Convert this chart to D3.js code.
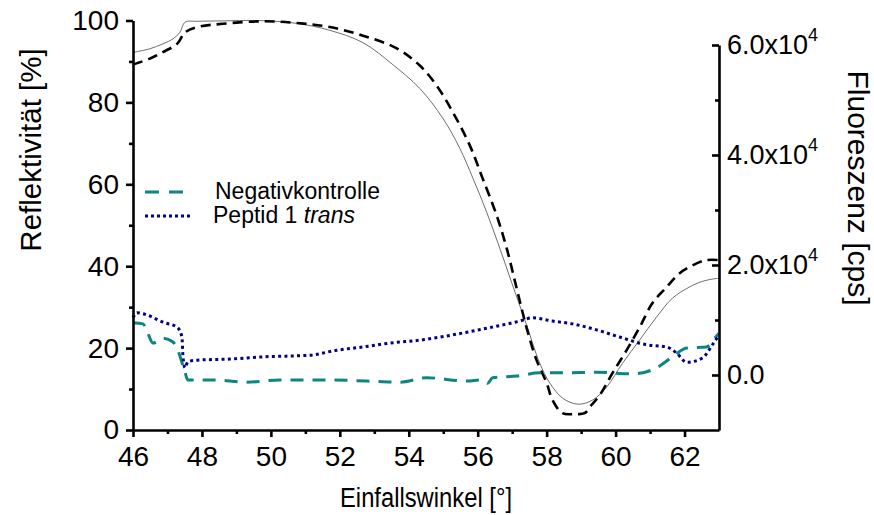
<!DOCTYPE html>
<html>
<head>
<meta charset="utf-8">
<script src="https://cdn.jsdelivr.net/npm/d3@7/dist/d3.min.js"></script>
<style>
  html, body { margin: 0; padding: 0; background: #fff; }
  svg { display: block; font-family: "Liberation Sans", Arial, sans-serif; }
</style>
</head>
<body>
<svg id="chart" width="874" height="515"></svg>
<script>
// Reflectivity curves (left axis, %)
const reflSolidAngle = [46.0, 46.06, 46.49, 46.87, 47.16, 47.36, 47.51, 47.86, 48.6, 49.6, 50.75, 51.71, 52.67, 53.54, 54.32, 54.99, 55.48, 55.86, 56.26, 56.64, 57.01, 57.42, 57.8, 58.09, 58.46, 58.9, 59.33, 59.74, 60.2, 60.7, 61.19, 61.65, 62.14, 62.52, 62.93, 63.0];
const reflSolid      = [92.2, 92.3, 93.1, 94.3, 95.5, 97.1, 99.6, 99.8, 99.9, 100.0, 99.3, 97.6, 94.6, 89.2, 83.4, 76.1, 68.8, 61.5, 53.2, 44.4, 35.4, 25.6, 16.3, 11.5, 7.8, 6.3, 7.3, 10.5, 16.3, 22.0, 27.6, 32.2, 34.9, 36.3, 37.0, 37.0];

const reflDashAngle = [46.0, 46.06, 46.49, 46.87, 47.28, 47.51, 47.86, 48.61, 49.77, 50.75, 51.71, 52.67, 53.65, 54.32, 54.81, 55.28, 55.77, 56.14, 56.55, 56.84, 57.13, 57.42, 57.71, 58.0, 58.17, 58.46, 58.81, 59.1, 59.3, 59.54, 59.91, 60.32, 60.7, 61.07, 61.48, 61.86, 62.23, 62.64, 63.0];
const reflDash      = [89.2, 89.4, 90.7, 92.3, 94.3, 97.1, 98.4, 99.2, 99.8, 99.4, 98.4, 96.3, 93.2, 89.0, 84.1, 77.6, 69.5, 61.5, 52.4, 44.4, 34.6, 24.9, 17.0, 11.5, 7.3, 4.1, 3.9, 4.1, 6.1, 8.5, 13.9, 19.5, 25.1, 31.0, 34.9, 38.3, 40.2, 41.5, 41.5];

// Fluorescence curves (right axis, cps)
const negAngle = [46.0, 46.29, 46.43, 46.58, 46.87, 47.16, 47.3, 47.51, 47.59, 48.32, 49.3, 50.26, 51.71, 52.78, 53.74, 54.52, 55.68, 56.12, 56.29, 56.43, 57.13, 57.8, 58.58, 59.45, 60.49, 61.19, 61.65, 62.06, 62.64, 62.93, 63.0];
const negCps   = [9500, 9300, 7600, 5800, 6700, 6000, 4500, 500, -900, -900, -1300, -900, -900, -1100, -1300, -500, -1100, -900, -1500, -500, -200, 400, 400, 500, 200, 1300, 3300, 4900, 5100, 7100, 7600];

const pepAngle = [46.0, 46.12, 46.41, 46.87, 47.28, 47.42, 47.45, 47.51, 47.59, 47.86, 48.81, 49.77, 51.13, 51.91, 52.67, 53.45, 54.41, 55.28, 56.26, 57.22, 57.59, 58.17, 58.75, 59.45, 60.12, 60.9, 61.48, 61.77, 62.06, 62.52, 62.81, 63.0];
const pepCps   = [10400, 11300, 10900, 9600, 8700, 6900, 3300, 1300, 2400, 2700, 2900, 3300, 3600, 4500, 5100, 5800, 6400, 7300, 8500, 9800, 10400, 9800, 9300, 8200, 6900, 5500, 5100, 4000, 2300, 3100, 5500, 7300];

// Axis ticks
const xMajorTicks = [46, 48, 50, 52, 54, 56, 58, 60, 62];
const xMinorTicks = [47, 49, 51, 53, 55, 57, 59, 61];
const yLeftMajorTicks = [0, 20, 40, 60, 80, 100];
const yLeftMinorTicks = [10, 30, 50, 70, 90];
const yRightMajorTicks = [0, 20000, 40000, 60000];
const yRightMinorTicks = [10000, 30000, 50000];
const yRightTickLabels = ["0.0", "2.0x10", "4.0x10", "6.0x10"];

const legendLabels = ["Negativkontrolle", "Peptid 1 "];

const svg = d3.select("#chart");
const plotLeft = 133, plotRight = 719, plotTop = 20.5, plotBottom = 430;

const x = d3.scaleLinear().domain([46, 63]).range([plotLeft, plotRight]);
const yL = d3.scaleLinear().domain([0, 100]).range([plotBottom, plotTop]);
const yR = d3.scaleLinear().domain([-10000, 60000]).range([plotBottom, 45]);

const colTeal = "#0d8580";
const colNavy = "#00008a";

function pairs(a, b) { return a.map((v, i) => [v, b[i]]); }

const lineL = d3.line().x(d => x(d[0])).y(d => yL(d[1])).curve(d3.curveCatmullRom.alpha(0.5));
const lineR = d3.line().x(d => x(d[0])).y(d => yR(d[1])).curve(d3.curveMonotoneX);

const plot = svg.append("g");

plot.append("path").datum(pairs(reflSolidAngle, reflSolid))
  .attr("d", lineL).attr("fill", "none").attr("stroke", "#6e6e6e").attr("stroke-width", 1);

plot.append("path").datum(pairs(reflDashAngle, reflDash))
  .attr("d", lineL).attr("fill", "none").attr("stroke", "#000").attr("stroke-width", 2.6)
  .attr("stroke-dasharray", "10,6");

plot.append("path").datum(pairs(negAngle, negCps))
  .attr("d", lineR).attr("fill", "none").attr("stroke", colTeal).attr("stroke-width", 3)
  .attr("stroke-dasharray", "13,9");

plot.append("path").datum(pairs(pepAngle, pepCps))
  .attr("d", lineR).attr("fill", "none").attr("stroke", colNavy).attr("stroke-width", 3)
  .attr("stroke-dasharray", "3,3.3");

// Axes
const fontTick = 28;
function styleAxis(g) {
  g.selectAll(".domain").attr("stroke", "#000").attr("stroke-width", 2.6);
  g.selectAll(".tick line").attr("stroke", "#000").attr("stroke-width", 2.6);
  g.selectAll(".tick text").attr("fill", "#000").attr("font-size", fontTick)
    .attr("font-family", "Liberation Sans, Arial, sans-serif");
}

// x axis
const gx = svg.append("g").attr("transform", `translate(0,${plotBottom})`)
  .call(d3.axisBottom(x).tickValues(xMajorTicks).tickSize(7).tickSizeOuter(0).tickPadding(9).tickFormat(d3.format("d")));
styleAxis(gx);
const gxm = svg.append("g").attr("transform", `translate(0,${plotBottom})`)
  .call(d3.axisBottom(x).tickValues(xMinorTicks).tickSize(4).tickFormat(""));
gxm.select(".domain").remove();
styleAxis(gxm);

// left y axis
const gyl = svg.append("g").attr("transform", `translate(${plotLeft},0)`)
  .call(d3.axisLeft(yL).tickValues(yLeftMajorTicks).tickSize(7).tickSizeOuter(0).tickPadding(7).tickFormat(d3.format("d")));
styleAxis(gyl);
const gylm = svg.append("g").attr("transform", `translate(${plotLeft},0)`)
  .call(d3.axisLeft(yL).tickValues(yLeftMinorTicks).tickSize(4).tickFormat(""));
gylm.select(".domain").remove();
styleAxis(gylm);

// right y axis, ticks pointing inward
const gyr = svg.append("g").attr("transform", `translate(${plotRight},0)`)
  .call(d3.axisRight(yR).tickValues(yRightMajorTicks).tickSizeInner(-7).tickSizeOuter(0).tickPadding(8).tickFormat(""));
styleAxis(gyr);
gyr.selectAll(".tick text").attr("font-size", 27).each(function(d, i) {
  const t = d3.select(this);
  t.text(null);
  t.append("tspan").text(yRightTickLabels[i]);
  if (d !== 0) {
    t.append("tspan").attr("font-size", 18).attr("dy", "-0.75em").text("4");
  }
});
const gyrm = svg.append("g").attr("transform", `translate(${plotRight},0)`)
  .call(d3.axisRight(yR).tickValues(yRightMinorTicks).tickSizeInner(-4).tickFormat(""));
gyrm.select(".domain").remove();
styleAxis(gyrm);

// Axis titles
svg.append("text").attr("x", 340).attr("y", 507)
  .attr("font-size", 27).attr("textLength", 172).attr("lengthAdjust", "spacingAndGlyphs")
  .text("Einfallswinkel [°]");

svg.append("text").attr("transform", "translate(41,150) rotate(-90)")
  .attr("text-anchor", "middle").attr("font-size", 29.5).text("Reflektivität [%]");

svg.append("text").attr("transform", "translate(848,188) rotate(90)")
  .attr("text-anchor", "middle").attr("font-size", 30).text("Fluoreszenz [cps]");

// Legend
const lg = svg.append("g");
lg.append("line").attr("x1", 145).attr("x2", 193).attr("y1", 192).attr("y2", 192)
  .attr("stroke", colTeal).attr("stroke-width", 3).attr("stroke-dasharray", "14,10");
lg.append("line").attr("x1", 145).attr("x2", 193).attr("y1", 216).attr("y2", 216)
  .attr("stroke", colNavy).attr("stroke-width", 3).attr("stroke-dasharray", "3,3");
lg.append("text").attr("x", 215).attr("y", 199).attr("font-size", 23).text(legendLabels[0]);
const t2 = lg.append("text").attr("x", 213).attr("y", 223).attr("font-size", 23);
t2.append("tspan").text(legendLabels[1]);
t2.append("tspan").attr("font-style", "italic").text("trans");
</script>
</body>
</html>
